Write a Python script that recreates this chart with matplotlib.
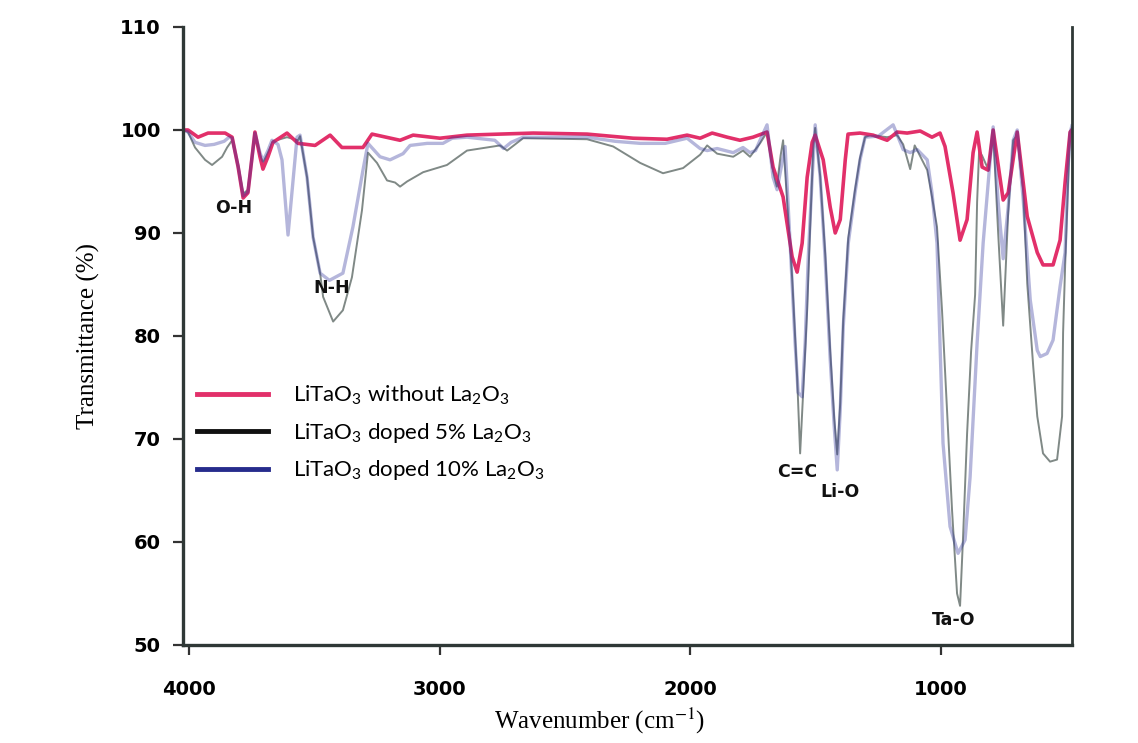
import matplotlib
matplotlib.use('Agg')
import matplotlib.pyplot as plt
from matplotlib.lines import Line2D

# 下標用的數學字體(圖例為無襯線體)
plt.rcParams['mathtext.fontset'] = 'custom'
plt.rcParams['mathtext.rm'] = 'Lato'
plt.rcParams['mathtext.it'] = 'Lato:italic'
plt.rcParams['mathtext.bf'] = 'Lato:bold'

# LiTaO3 without La2O3  (wavenumber cm-1, transmittance %)
wn_pure = [4024, 4004, 3964, 3924, 3856, 3828, 3804, 3784, 3765, 3737, 3717, 3705, 3685, 3665,
           3609, 3565, 3497, 3437, 3390, 3306, 3270, 3158, 3106, 2999, 2891, 2627, 2412, 2228,
           2093, 2013, 1961, 1913, 1853, 1802, 1750, 1694, 1670, 1630, 1594, 1574, 1554, 1534,
           1514, 1502, 1470, 1442, 1422, 1402, 1382, 1371, 1323, 1271, 1215, 1175, 1135, 1083,
           1036, 1004, 984, 952, 924, 896, 872, 856, 836, 812, 792, 752, 732, 696, 656, 616,
           593, 553, 525, 505, 485, 478]
t_pure = [100.0, 100.0, 99.3, 99.7, 99.7, 99.3, 96.4, 93.4, 93.9, 99.8, 97.4, 96.2, 97.4, 98.8,
          99.7, 98.7, 98.5, 99.5, 98.3, 98.3, 99.6, 99.0, 99.5, 99.2, 99.5, 99.7, 99.6, 99.2,
          99.1, 99.5, 99.2, 99.7, 99.3, 99.0, 99.3, 99.8, 96.4, 93.5, 87.7, 86.2, 89.0, 95.4,
          98.8, 99.5, 97.1, 92.5, 90.0, 91.3, 97.1, 99.6, 99.7, 99.5, 99.0, 99.8, 99.7, 99.9,
          99.3, 99.7, 98.4, 93.9, 89.3, 91.3, 97.8, 99.8, 96.4, 96.1, 100.0, 93.2, 93.9, 99.8,
          91.6, 88.1, 86.9, 86.9, 89.3, 94.9, 99.8, 100.0]

# LiTaO3 doped 5% La2O3
wn_5 = [4024, 4004, 3976, 3936, 3908, 3868, 3848, 3828, 3804, 3784, 3765, 3737, 3717, 3705,
        3685, 3665, 3609, 3565, 3557, 3529, 3505, 3477, 3465, 3425, 3386, 3350, 3310, 3286,
        3250, 3210, 3178, 3158, 3130, 3066, 2971, 2891, 2759, 2731, 2667, 2412, 2308, 2200,
        2109, 2029, 1961, 1933, 1893, 1829, 1790, 1762, 1722, 1694, 1670, 1655, 1640, 1630,
        1594, 1574, 1562, 1550, 1534, 1522, 1510, 1502, 1482, 1462, 1442, 1426, 1414, 1402,
        1390, 1370, 1343, 1323, 1303, 1283, 1215, 1175, 1151, 1123, 1105, 1055, 1036, 1016,
        996, 976, 956, 936, 924, 912, 896, 880, 864, 856, 848, 836, 812, 792, 772, 752, 732,
        712, 696, 672, 656, 632, 616, 593, 565, 537, 517, 513, 505, 493, 485, 478]
t_5 = [100.0, 99.8, 98.3, 97.1, 96.6, 97.4, 98.3, 99.0, 96.6, 93.8, 94.2, 99.6, 97.6, 96.8,
       97.8, 98.9, 99.3, 99.0, 99.4, 95.4, 89.6, 86.1, 83.8, 81.4, 82.5, 85.7, 92.2, 97.8,
       96.8, 95.1, 94.9, 94.5, 95.0, 95.9, 96.6, 98.0, 98.5, 98.0, 99.2, 99.1, 98.4, 96.8,
       95.8, 96.3, 97.6, 98.5, 97.7, 97.4, 98.0, 97.4, 98.7, 99.8, 96.0, 94.5, 97.5, 99.0,
       85.7, 76.0, 68.6, 74.5, 82.5, 90.6, 98.1, 100.2, 95.5, 88.0, 78.5, 72.0, 68.5, 73.5,
       81.5, 89.5, 94.2, 97.3, 99.3, 99.5, 99.3, 99.5, 98.6, 96.2, 98.5, 96.1, 93.5, 90.6,
       82.5, 72.8, 63.1, 55.0, 53.8, 60.5, 70.5, 78.5, 84.0, 93.0, 98.0, 97.5, 96.2, 99.8,
       90.0, 81.0, 92.0, 99.0, 99.5, 94.0, 85.1, 77.0, 72.2, 68.6, 67.8, 68.0, 72.2, 80.3,
       86.7, 94.9, 99.7, 100.2]

# LiTaO3 doped 10% La2O3
wn_10 = [4024, 4004, 3976, 3936, 3900, 3860, 3840, 3828, 3804, 3784, 3765, 3737, 3717, 3705,
         3685, 3669, 3645, 3629, 3605, 3569, 3557, 3529, 3505, 3477, 3440, 3386, 3346, 3306,
         3286, 3238, 3198, 3146, 3118, 3050, 2987, 2950, 2891, 2780, 2745, 2715, 2667, 2412,
         2300, 2200, 2100, 2013, 1961, 1933, 1893, 1829, 1790, 1762, 1740, 1722, 1694, 1670,
         1654, 1642, 1622, 1602, 1582, 1570, 1554, 1542, 1530, 1514, 1502, 1482, 1462, 1442,
         1426, 1414, 1402, 1390, 1370, 1343, 1323, 1303, 1250, 1191, 1151, 1123, 1095, 1055,
         1036, 1016, 1004, 992, 964, 932, 904, 884, 856, 832, 804, 792, 772, 752, 732, 712,
         696, 672, 644, 616, 604, 577, 553, 525, 505, 493, 485, 478]
t_10 = [100.0, 99.8, 98.8, 98.5, 98.6, 98.9, 99.3, 99.2, 96.5, 93.6, 94.0, 99.7, 97.8, 97.0,
        98.0, 99.0, 98.6, 97.1, 89.8, 99.3, 99.5, 95.4, 89.6, 86.1, 85.4, 86.1, 90.6, 96.1,
        98.7, 97.4, 97.1, 97.7, 98.5, 98.7, 98.7, 99.2, 99.3, 99.0, 98.2, 98.8, 99.3, 99.3,
        98.9, 98.7, 98.7, 99.2, 98.2, 98.0, 98.2, 97.8, 98.3, 97.8, 98.0, 99.0, 100.5, 95.4,
        94.2, 95.8, 98.4, 89.0, 79.3, 74.5, 74.1, 79.3, 87.4, 95.4, 100.5, 95.4, 87.4, 77.7,
        71.2, 67.0, 72.8, 80.9, 89.0, 93.9, 97.1, 99.3, 99.4, 100.5, 98.1, 97.8, 98.1, 97.1,
        93.9, 89.0, 79.3, 69.6, 61.5, 58.9, 60.2, 66.3, 79.3, 89.0, 97.1, 100.3, 93.0, 87.5,
        92.5, 99.0, 100.0, 93.2, 83.5, 78.6, 78.0, 78.3, 79.6, 84.8, 88.1, 96.4, 99.7, 100.4]

# 吸收峰標記 (text, wavenumber, transmittance)
peak_labels = ['O-H', 'N-H', 'C=C', 'Li-O', 'Ta-O']
peak_x = [3820, 3429, 1574, 1403, 948]
peak_y = [92.4, 84.7, 66.8, 64.9, 52.4]

series_labels = [r'LiTaO$_3$ without La$_2$O$_3$',
                 r'LiTaO$_3$ doped 5% La$_2$O$_3$',
                 r'LiTaO$_3$ doped 10% La$_2$O$_3$']

fig = plt.figure(figsize=(11.38, 7.43), dpi=100)
ax = fig.add_axes([0.1608, 0.1319, 0.7813, 0.8318])

ax.plot(wn_5, t_5, color='#55625e', lw=1.4, alpha=0.75)
ax.plot(wn_pure, t_pure, color='#e2306a', lw=2.6)
ax.plot(wn_10, t_10, color='#2b2f9a', lw=2.4, alpha=0.35)

for lab, px, py in zip(peak_labels, peak_x, peak_y):
    ax.text(px, py, lab, ha='center', va='center', fontsize=12.5, fontweight='bold',
            family='DejaVu Sans', color='#111111')

ax.set_xlim(4024, 477)
ax.set_ylim(50, 110)
ax.set_xticks([4000, 3000, 2000, 1000])
ax.set_yticks([50, 60, 70, 80, 90, 100, 110])

for lbl in ax.get_xticklabels() + ax.get_yticklabels():
    lbl.set_fontweight('bold')
    lbl.set_fontfamily('DejaVu Sans')
    lbl.set_fontsize(14)
ax.tick_params(axis='both', direction='out', length=7, width=1.6, color='#333333')
ax.tick_params(axis='x', pad=18)
ax.tick_params(axis='y', pad=9)

ax.spines['top'].set_visible(False)
for s in ['left', 'bottom']:
    ax.spines[s].set_linewidth(2.4)
    ax.spines[s].set_color('#2f3836')
ax.spines['right'].set_linewidth(2.0)
ax.spines['right'].set_color('#2f3836')

ax.set_xlabel(r'Wavenumber (cm$^{-1}$)', family='Liberation Serif', fontsize=18,
              math_fontfamily='stix')
ax.xaxis.set_label_coords(0.469, -0.098)
ax.set_ylabel('Transmittance (%)', family='Liberation Serif', fontsize=18)
ax.yaxis.set_label_coords(-0.093, 0.5)

handles = [Line2D([], [], color='#e2306a', lw=3.5),
           Line2D([], [], color='#111111', lw=3.5),
           Line2D([], [], color='#262c8c', lw=3.5)]
ax.legend(handles, series_labels, loc='center left', bbox_to_anchor=(0.0157, 0.343),
          frameon=False, borderpad=0, borderaxespad=0, handlelength=3.2,
          handletextpad=1.1, labelspacing=0.62, prop={'family': 'Lato', 'size': 16})

fig.savefig('out.png', dpi=100)
